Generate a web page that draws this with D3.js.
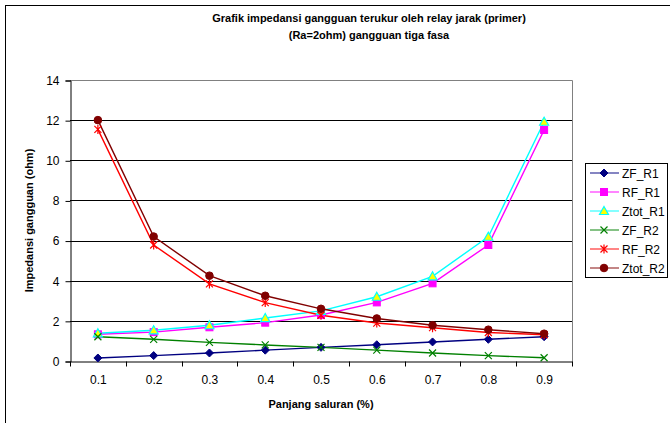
<!DOCTYPE html>
<html>
<head>
<meta charset="utf-8">
<script src="https://cdn.jsdelivr.net/npm/d3@7"></script>
<style>
  html, body { margin: 0; padding: 0; background: #fff; }
  svg { display: block; font-family: "Liberation Sans", Arial, sans-serif; }
</style>
</head>
<body>
<svg id="chart" width="670" height="423"></svg>
<script>
// Fault location along the line
const categories = ["0.1", "0.2", "0.3", "0.4", "0.5", "0.6", "0.7", "0.8", "0.9"];

// Measured impedance values (ohm)
const zfR1   = [0.15, 0.27, 0.40, 0.54, 0.68, 0.81, 0.95, 1.08, 1.21];
const rfR1   = [1.33, 1.44, 1.68, 1.91, 2.29, 2.92, 3.87, 5.78, 11.51];
const ztotR1 = [1.38, 1.53, 1.78, 2.14, 2.50, 3.20, 4.22, 6.19, 11.92];
const zfR2   = [1.21, 1.08, 0.93, 0.80, 0.68, 0.54, 0.40, 0.27, 0.16];
const rfR2   = [11.54, 5.78, 3.84, 2.91, 2.28, 1.89, 1.66, 1.42, 1.31];
const ztotR2 = [12.00, 6.20, 4.25, 3.25, 2.60, 2.12, 1.78, 1.56, 1.36];

const yTicks = [0, 2, 4, 6, 8, 10, 12, 14];

const series = [
  { name: "ZF_R1",   values: zfR1,   color: "#000080", marker: "diamond" },
  { name: "RF_R1",   values: rfR1,   color: "#FF00FF", marker: "square" },
  { name: "Ztot_R1", values: ztotR1, color: "#00FFFF", marker: "triangle" },
  { name: "ZF_R2",   values: zfR2,   color: "#008000", marker: "cross" },
  { name: "RF_R2",   values: rfR2,   color: "#FF0000", marker: "star" },
  { name: "Ztot_R2", values: ztotR2, color: "#800000", marker: "circle" }
];

const svg = d3.select("#chart");
const plot = { left: 70, right: 572, top: 80, bottom: 361 };

// Outer chart frame
svg.append("rect")
  .attr("x", 5.5).attr("y", 5.5)
  .attr("width", 700).attr("height", 450)
  .attr("fill", "none").attr("stroke", "#000").attr("stroke-width", 1);

// Title
const title = svg.append("text")
  .attr("text-anchor", "middle")
  .attr("font-size", 11).attr("font-weight", "bold")
  .attr("fill", "#000");
title.append("tspan").attr("x", 369).attr("y", 22)
  .text("Grafik impedansi gangguan terukur oleh relay jarak (primer)");
title.append("tspan").attr("x", 369).attr("y", 39)
  .text("(Ra=2ohm) gangguan tiga fasa");

const x = d3.scaleBand().domain(categories).range([plot.left, plot.right]);
const y = d3.scaleLinear().domain([0, 14]).range([plot.bottom, plot.top]);

// Horizontal gridlines
svg.append("g").selectAll("line")
  .data(yTicks.filter(t => t > 0 && t < 14))
  .join("line")
  .attr("x1", plot.left).attr("x2", plot.right)
  .attr("y1", d => Math.round(y(d)) + 0.5).attr("y2", d => Math.round(y(d)) + 0.5)
  .attr("stroke", "#000").attr("stroke-width", 1);

// Plot area border (top and right)
svg.append("path")
  .attr("d", `M${plot.left},${plot.top + 0.5}H${plot.right + 0.5}V${plot.bottom}`)
  .attr("fill", "none").attr("stroke", "#808080").attr("stroke-width", 1);

// Y axis
const yAxis = svg.append("g")
  .attr("transform", `translate(${plot.left + 0.5},0.5)`)
  .call(d3.axisLeft(y).tickValues(yTicks).tickFormat(d3.format("d")).tickSize(5).tickPadding(6));
yAxis.select(".domain").attr("stroke", "#000");
yAxis.selectAll(".tick line").attr("stroke", "#000");
yAxis.selectAll("text").attr("font-size", 12).attr("fill", "#000")
  .attr("font-family", "Liberation Sans, Arial, sans-serif");

// X axis, ticks at category boundaries
const xAxis = svg.append("g")
  .attr("transform", `translate(0.5,${plot.bottom + 0.5})`)
  .call(d3.axisBottom(x).tickSize(0).tickPadding(14));
xAxis.select(".domain").attr("stroke", "#000");
xAxis.selectAll("text").attr("font-size", 12).attr("fill", "#000")
  .attr("font-family", "Liberation Sans, Arial, sans-serif");
const boundaries = categories.map(c => x(c)).concat([x.range()[1]]);
xAxis.selectAll(".bound").data(boundaries).join("line")
  .attr("class", "bound")
  .attr("x1", d => Math.round(d)).attr("x2", d => Math.round(d))
  .attr("y1", 0).attr("y2", 5)
  .attr("stroke", "#000");

// Axis titles
svg.append("text")
  .attr("x", (plot.left + plot.right) / 2).attr("y", 408)
  .attr("text-anchor", "middle").attr("font-size", 11).attr("font-weight", "bold")
  .text("Panjang saluran (%)");
svg.append("text")
  .attr("transform", `translate(33,${(plot.top + plot.bottom) / 2}) rotate(-90)`)
  .attr("text-anchor", "middle").attr("font-size", 11).attr("font-weight", "bold")
  .text("Impedansi gangguan (ohm)");

// Marker drawing
function drawMarker(g, type, color) {
  switch (type) {
    case "diamond":
      g.append("path").attr("d", "M0,-4L4,0L0,4L-4,0Z").attr("fill", color).attr("stroke", color);
      break;
    case "square":
      g.append("rect").attr("x", -3.5).attr("y", -3.5).attr("width", 7).attr("height", 7)
        .attr("fill", color).attr("stroke", color);
      break;
    case "triangle":
      g.append("path").attr("d", "M0,-4.5L4.5,3.5L-4.5,3.5Z")
        .attr("fill", "#FFFF00").attr("stroke", color).attr("stroke-width", 1.2);
      break;
    case "cross":
      g.append("path").attr("d", "M-3.5,-3.5L3.5,3.5M-3.5,3.5L3.5,-3.5")
        .attr("stroke", color).attr("stroke-width", 1.2).attr("fill", "none");
      break;
    case "star":
      g.append("path").attr("d", "M-3.5,-3.5L3.5,3.5M-3.5,3.5L3.5,-3.5M0,-4.5V4.5")
        .attr("stroke", color).attr("stroke-width", 1.2).attr("fill", "none");
      break;
    case "circle":
      g.append("circle").attr("r", 3.8).attr("fill", color).attr("stroke", color);
      break;
  }
}

const cx = c => x(c) + x.bandwidth() / 2;
const line = d3.line().x((d, i) => cx(categories[i])).y(d => y(d));

// Series lines and markers
series.forEach(s => {
  svg.append("path")
    .datum(s.values)
    .attr("d", line)
    .attr("fill", "none").attr("stroke", s.color).attr("stroke-width", 1.4);
});
series.forEach(s => {
  s.values.forEach((v, i) => {
    const g = svg.append("g").attr("transform", `translate(${cx(categories[i])},${y(v)})`);
    drawMarker(g, s.marker, s.color);
  });
});

// Legend
const legend = svg.append("g");
legend.append("rect")
  .attr("x", 585.5).attr("y", 163.5).attr("width", 82).attr("height", 114)
  .attr("fill", "#fff").attr("stroke", "#000").attr("stroke-width", 1);
series.forEach((s, i) => {
  const ly = 173 + i * 19;
  const g = legend.append("g");
  g.append("line").attr("x1", 590).attr("x2", 619).attr("y1", ly).attr("y2", ly)
    .attr("stroke", s.color).attr("stroke-width", 1.6).attr("stroke-opacity", 0.6);
  drawMarker(g.append("g").attr("transform", `translate(604,${ly})`), s.marker, s.color);
  g.append("text").attr("x", 622).attr("y", ly + 4.5)
    .attr("font-size", 12).attr("fill", "#000").text(s.name);
});
</script>
</body>
</html>
